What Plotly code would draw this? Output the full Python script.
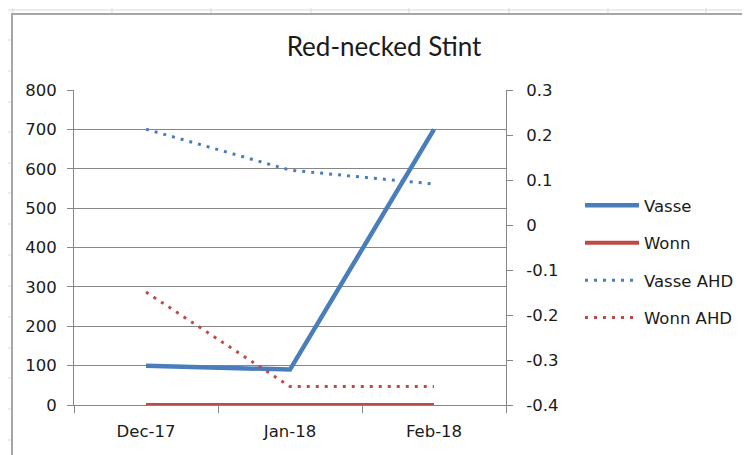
import plotly.graph_objects as go

# data
months = ["Dec-17", "Jan-18", "Feb-18"]
vasse = [100, 90, 700]
wonn = [0, 0, 0]
vasse_ahd = [0.213, 0.122, 0.091]
wonn_ahd = [-0.149, -0.359, -0.359]

left_ticks = [0, 100, 200, 300, 400, 500, 600, 700, 800]
right_ticks = [-0.4, -0.3, -0.2, -0.1, 0.0, 0.1, 0.2, 0.3]
right_labels = ["-0.4", "-0.3", "-0.2", "-0.1", "0", "0.1", "0.2", "0.3"]

BLUE = "#4a7ebb"
RED = "#be4b48"
AXIS = "#868686"
TICK_FONT = dict(family="DejaVu Sans", size=16.5, color="#1a1a1a")

W, H = 750, 455
OFF = 8  # page body margin: screen px = figure px + 8
L, R, T, B = 74 - OFF, 506 - OFF, 90 - OFF, 405 - OFF  # plot area, figure px


def px(x, y):
    """Screen pixel position -> paper coords (sheet decoration only)."""
    x, y = x - OFF, y - OFF
    return (x - L) / (R - L), (B - y) / (B - T)


fig = go.Figure()
fig.add_trace(go.Scatter(
    x=months, y=vasse, name="Vasse", mode="lines", legendgroup="a",
    line=dict(color=BLUE, width=4.5),
))
fig.add_trace(go.Scatter(
    x=months, y=wonn, name="Wonn", mode="lines", legendgroup="b",
    line=dict(color=RED, width=4),
))
fig.add_trace(go.Scatter(
    x=months, y=vasse_ahd, name="Vasse AHD", mode="lines", legendgroup="c",
    yaxis="y2", line=dict(color=BLUE, width=3, dash="3px,6px"),
))
fig.add_trace(go.Scatter(
    x=months, y=wonn_ahd, name="Wonn AHD", mode="lines", legendgroup="d",
    yaxis="y2", line=dict(color=RED, width=3, dash="3px,6px"),
))

# spreadsheet gridlines behind the chart object + chart border
sheet = dict(color="#d9d9d9", width=1)
shapes = []
x0, y0 = px(7, 10)
x1, _ = px(W + 10, 10)
shapes.append(dict(type="line", xref="paper", yref="paper", x0=x0, x1=x1,
                   y0=y0, y1=y0, line=sheet, layer="below"))
for cx in [13, 112, 211, 311, 409, 509, 608, 706]:
    a, ya = px(cx, 0)
    _, yb = px(cx, 14)
    shapes.append(dict(type="line", xref="paper", yref="paper", x0=a, x1=a,
                       y0=ya, y1=yb, line=sheet, layer="below"))
for ry in [40, 71, 102, 132, 163, 193, 224, 255, 286, 317, 348, 378, 409, 440]:
    a, yy = px(7, ry)
    b, _ = px(11, ry)
    shapes.append(dict(type="line", xref="paper", yref="paper", x0=a, x1=b,
                       y0=yy, y1=yy, line=sheet, layer="below"))
bx, by = px(12, 14)
ex, ey = px(W + 20, H + 20)
shapes.append(dict(type="rect", xref="paper", yref="paper", x0=bx, x1=ex,
                   y0=ey, y1=by, line=dict(color="#a6a6a6", width=2),
                   fillcolor="rgba(0,0,0,0)", layer="below"))

fig.update_layout(
    width=W, height=H,
    margin=dict(l=L, r=W - R, t=T, b=H - B, pad=0),
    paper_bgcolor="white", plot_bgcolor="white",
    title=dict(text="Red-necked Stint", x=(384 - OFF) / W, xanchor="center",
               y=1 - (47 - OFF) / H, yanchor="middle",
               font=dict(family="Lato", size=26, color="#1a1a1a")),
    showlegend=True,
    legend=dict(x=px(580, 0)[0], xanchor="left", y=px(0, 188)[1], yanchor="top",
                font=dict(family="DejaVu Sans", size=16.5, color="#1a1a1a"),
                tracegroupgap=13, itemwidth=54, bgcolor="rgba(0,0,0,0)"),
    shapes=shapes,
    xaxis=dict(
        type="category", range=[-0.5, 2.5], tickson="boundaries",
        ticks="outside", ticklen=7, tickcolor=AXIS, tickwidth=1,
        showline=True, linecolor=AXIS, linewidth=1, showgrid=False,
        tickfont=TICK_FONT, ticklabelstandoff=11, zeroline=False,
    ),
    yaxis=dict(
        range=[0, 800], tickvals=left_ticks, ticks="outside", ticklen=6,
        tickcolor=AXIS, showline=True, linecolor=AXIS, linewidth=1,
        showgrid=True, gridcolor=AXIS, gridwidth=1, zeroline=False,
        tickfont=TICK_FONT, ticklabelstandoff=7,
    ),
    yaxis2=dict(
        range=[-0.4, 0.3], tickvals=right_ticks, ticktext=right_labels,
        overlaying="y", side="right", ticks="outside", ticklen=6,
        tickcolor=AXIS, showline=True, linecolor=AXIS, linewidth=1,
        showgrid=False, zeroline=False, tickfont=TICK_FONT,
        ticklabelstandoff=10,
    ),
)

fig.write_html("out.html")
